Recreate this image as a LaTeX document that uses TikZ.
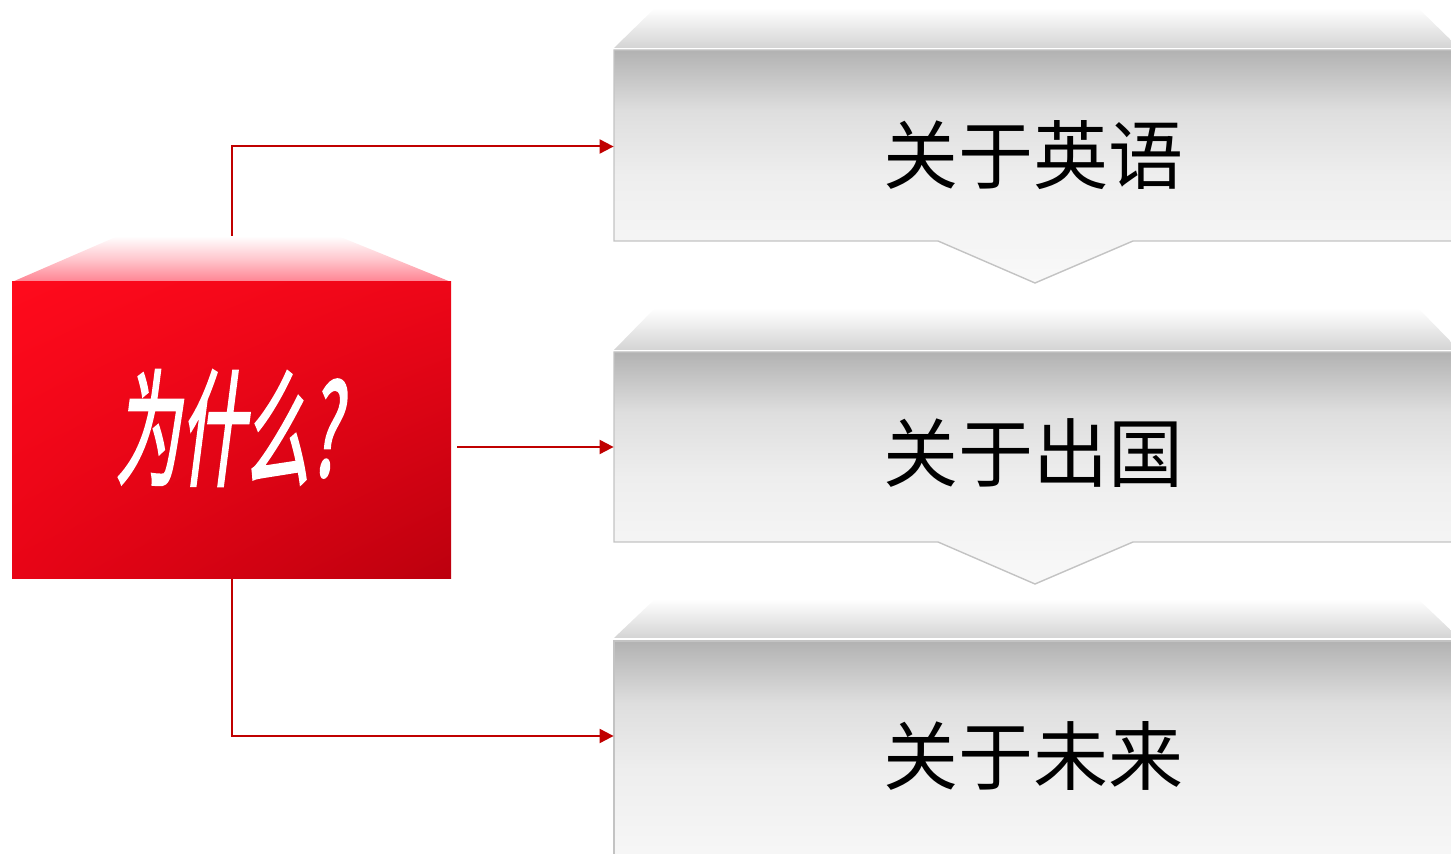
\documentclass[tikz,border=0pt]{standalone}
\usepackage{fontspec}
\newfontfamily\cjk{Noto Sans CJK SC}
\newfontfamily\cjkw[FakeBold=2.5]{Noto Sans CJK SC}
\usetikzlibrary{arrows.meta,shadings}
\definecolor{arrowred}{RGB}{192,0,0}
\definecolor{gT}{RGB}{178,178,178}
\definecolor{gM}{RGB}{222,222,222}
\definecolor{gM2}{RGB}{238,238,238}
\definecolor{gB}{RGB}{249,249,249}
\definecolor{edgegray}{RGB}{195,195,195}
\definecolor{bevelB}{RGB}{212,212,212}
\definecolor{pinkc}{RGB}{255,130,145}
\definecolor{rUL}{RGB}{255,10,28}
\definecolor{rUR}{RGB}{238,6,24}
\definecolor{rLL}{RGB}{232,4,22}
\definecolor{rLR}{RGB}{188,0,14}
\pgfdeclareverticalshading{grayface}{100bp}{color(0bp)=(gB); color(25bp)=(gB); color(48bp)=(gM2); color(62bp)=(gM); color(75bp)=(gT); color(100bp)=(gT)}
\pgfdeclareverticalshading{pinkfade}{100bp}{color(0bp)=(pinkc); color(25bp)=(pinkc); color(50bp)=(pinkc!45!white); color(75bp)=(white); color(100bp)=(white)}
\tikzset{
  conn/.style={draw=arrowred, line width=1pt, -{Triangle[length=7pt,width=7pt]}},
  facepath/.style={shading=grayface, draw=edgegray, line width=0.7pt},
  bevelpath/.style={top color=white, bottom color=bevelB},
  facebox/.style={minimum width=419pt, minimum height=95pt, inner sep=0pt, font=\cjk\fontsize{37.5}{40}\selectfont, text depth=3pt},
  redbox/.style={minimum width=219.5pt, minimum height=148.5pt, inner sep=0pt,
    upper left=rUL, upper right=rUR, lower left=rLL, lower right=rLR},
  whytext/.style={text=white, font=\cjkw\fontsize{60}{66}\selectfont, xscale=0.54, yscale=1.05, xslant=0.25, transform shape, inner sep=0pt}
}
\begin{document}
\begin{tikzpicture}[x=0.5pt,y=-0.5pt]
\useasboundingbox (0,0) rectangle (1451,854);
\clip (0,0) rectangle (1451,854);
% gray boxes: bevels and faces
\shade[bevelpath] (614,48) -- (655,8) -- (1418,8) -- (1459,48) -- cycle;
\shade[facepath] (614,50) -- (1470,50) -- (1470,241) -- (1133,241) -- (1035,283) -- (938,241) -- (614,241) -- cycle;
\shade[bevelpath] (614,350) -- (655,308) -- (1418,308) -- (1459,350) -- cycle;
\shade[facepath] (614,352) -- (1470,352) -- (1470,542) -- (1133,542) -- (1035,584) -- (938,542) -- (614,542) -- cycle;
\shade[bevelpath] (614,638) -- (655,599) -- (1418,599) -- (1459,638) -- cycle;
\shade[facepath] (614,641) -- (1470,641) -- (1470,880) -- (614,880) -- cycle;
\node[facebox, text height=40pt] (b1) at (1033,146.5) {关于英语};
\node[facebox, text height=38pt] (b2) at (1033,447) {关于出国};
\node[facebox, text height=51pt] (b3) at (1033,736) {关于未来};
% red box
\shade[shading=pinkfade] (12,282) -- (118,236) -- (338,236) -- (451,282) -- cycle;
\node[redbox, shade] (why) at (231.5,430.5) {};
\coordinate (whytop) at (231.5,236);
\node[whytext] (whylabel) at (234,428) {为什么?};
% connectors
\draw[conn] (whytop) |- (b1.west);
\draw[conn, shorten <=3pt] (why.east |- b2.west) -- (b2.west);
\draw[conn] (why.south) |- (b3.west);
\end{tikzpicture}
\end{document}
